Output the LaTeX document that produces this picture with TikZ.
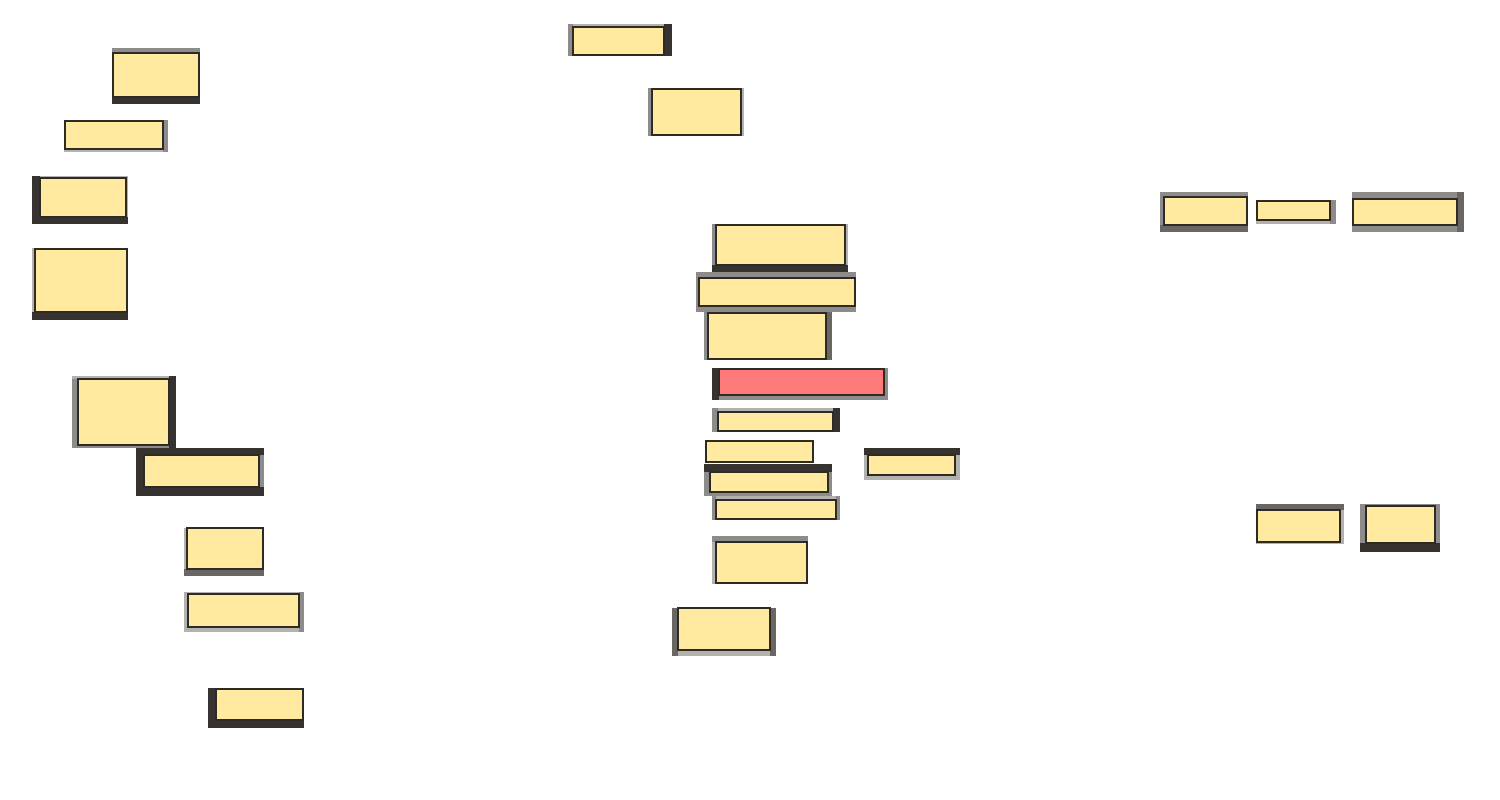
\documentclass[tikz,border=0pt]{standalone}
\usepackage{xcolor}
\usepackage{tikz}
\definecolor{pad}{HTML}{FFEA9F}
\definecolor{alert}{HTML}{FF7A7A}
\definecolor{rim}{HTML}{2E2A24}
\definecolor{lgray}{HTML}{B4B2AE}
\definecolor{mgray}{HTML}{8E8C8A}
\definecolor{dgray}{HTML}{6A6664}
\definecolor{dark}{HTML}{363230}

\begin{document}
\begin{tikzpicture}[x=0.02cm,y=-0.02cm,
  tile/.style={fill=pad,draw=rim,line width=0.8pt},
  hot/.style={fill=alert,draw=rim,line width=0.8pt}]
\useasboundingbox (0,0) rectangle (1500,800);
% left column
\fill[lgray] (112,48) rectangle (200,104); \fill[mgray] (112,48) rectangle (200,53); \fill[dark] (112,97) rectangle (200,104);
\draw[tile] (113,53) rectangle (199,97);
\fill[lgray] (64,120) rectangle (168,152); \fill[mgray] (163,120) rectangle (168,152);
\draw[tile] (65,121) rectangle (163,149);
\fill[lgray] (32,176) rectangle (128,224); \fill[dark] (32,176) rectangle (40,224); \fill[dark] (32,217) rectangle (128,224);
\draw[tile] (40,178) rectangle (126,217);
\fill[lgray] (32,248) rectangle (128,320); \fill[dark] (32,312) rectangle (128,320);
\draw[tile] (35,249) rectangle (127,312);
\fill[mgray] (72,376) rectangle (176,448); \fill[lgray] (72,376) rectangle (176,379); \fill[dark] (169,376) rectangle (176,448);
\draw[tile] (78,379) rectangle (169,445);
\fill[dark] (136,448) rectangle (264,496); \fill[mgray] (259,455) rectangle (264,487);
\draw[tile] (144,455) rectangle (259,487);
\fill[lgray] (184,528) rectangle (264,576); \fill[dgray] (184,569) rectangle (264,576);
\draw[tile] (187,528) rectangle (263,569);
\fill[lgray] (184,592) rectangle (304,632); \fill[mgray] (299,592) rectangle (304,632);
\draw[tile] (188,594) rectangle (299,627);
\fill[dark] (208,688) rectangle (304,728);
\draw[tile] (216,689) rectangle (303,720);
% middle column
\fill[lgray] (568,24) rectangle (672,56); \fill[mgray] (568,24) rectangle (573,56); \fill[dark] (664,24) rectangle (672,56);
\draw[tile] (573,27) rectangle (664,55);
\fill[lgray] (648,88) rectangle (744,136); \fill[mgray] (648,88) rectangle (652,136);
\draw[tile] (652,89) rectangle (741,135);
\fill[lgray] (712,224) rectangle (848,272); \fill[mgray] (712,224) rectangle (716,272); \fill[dark] (712,265) rectangle (848,272);
\draw[tile] (716,225) rectangle (845,265);
\fill[mgray] (696,272) rectangle (856,312);
\draw[tile] (699,278) rectangle (855,306);
\fill[mgray] (704,312) rectangle (832,360); \fill[dgray] (826,312) rectangle (832,360);
\draw[tile] (708,313) rectangle (826,359);
\fill[mgray] (712,368) rectangle (888,400); \fill[dark] (712,368) rectangle (719,400);
\draw[hot] (719,369) rectangle (884,395);
\fill[lgray] (712,408) rectangle (840,432); \fill[mgray] (712,408) rectangle (718,432); \fill[dark] (833,408) rectangle (840,432);
\draw[tile] (718,412) rectangle (833,431);
\draw[tile] (706,441) rectangle (813,462);
\fill[mgray] (704,464) rectangle (832,496); \fill[dark] (704,464) rectangle (832,472);
\draw[tile] (710,472) rectangle (828,492);
\fill[lgray] (712,496) rectangle (840,520); \fill[mgray] (712,496) rectangle (716,520); \fill[mgray] (836,496) rectangle (840,520);
\draw[tile] (716,500) rectangle (836,519);
\fill[lgray] (864,448) rectangle (960,480); \fill[dark] (864,448) rectangle (960,455);
\draw[tile] (868,455) rectangle (955,475);
\fill[mgray] (712,536) rectangle (808,584); \fill[lgray] (712,542) rectangle (716,584);
\draw[tile] (716,542) rectangle (807,583);
\fill[dgray] (672,608) rectangle (776,656); \fill[lgray] (678,650) rectangle (770,656);
\draw[tile] (678,608) rectangle (770,650);
% right column
\fill[mgray] (1160,192) rectangle (1248,232); \fill[dgray] (1160,225) rectangle (1248,232);
\draw[tile] (1164,197) rectangle (1247,225);
\fill[lgray] (1256,200) rectangle (1336,224); \fill[mgray] (1330,200) rectangle (1336,224);
\draw[tile] (1257,201) rectangle (1330,220);
\fill[mgray] (1352,192) rectangle (1464,232); \fill[dgray] (1457,192) rectangle (1464,232);
\draw[tile] (1353,199) rectangle (1457,225);
\fill[lgray] (1256,504) rectangle (1344,544); \fill[dgray] (1256,504) rectangle (1344,510);
\draw[tile] (1257,510) rectangle (1340,542);
\fill[mgray] (1360,504) rectangle (1440,552); \fill[dark] (1360,543) rectangle (1440,552);
\draw[tile] (1366,506) rectangle (1435,543);
\end{tikzpicture}
\end{document}
